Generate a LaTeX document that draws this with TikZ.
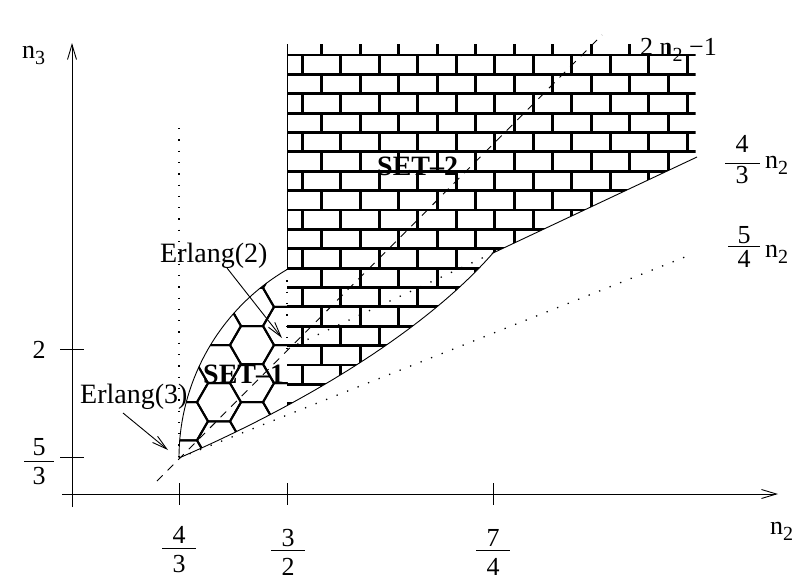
\documentclass[tikz,border=0pt]{standalone}
\usepackage{fontspec}
\setmainfont{Liberation Serif}
\usetikzlibrary{arrows.meta}
\newcommand\nsub[1]{n\raisebox{-6pt}{\fontsize{20}{20}\selectfont #1}}
\tikzset{
  thinline/.style={line width=0.9pt},
  brickline/.style={line width=2.8pt},
  hexline/.style={line width=2pt, line join=round},
  dotline/.style={line width=1.3pt, dash pattern=on 1.3pt off 10pt},
  dashline/.style={line width=0.9pt, dash pattern=on 8pt off 7pt},
  axis/.style={line width=0.9pt, -{Straight Barb[length=15pt,width=9pt]}},
  pointer/.style={line width=0.9pt, -{Straight Barb[length=15pt,width=8pt]}},
  lbl/.style={font=\fontsize{28}{30}\selectfont, inner sep=0pt, anchor=base west},
  setlbl/.style={font=\fontsize{28}{30}\selectfont\bfseries, inner sep=0pt, anchor=base west},
  num/.style={font=\fontsize{26}{28}\selectfont, inner sep=0pt, anchor=base},
  numw/.style={font=\fontsize{26}{28}\selectfont, inner sep=0pt, anchor=base west},
  fracbar/.style={line width=1pt},
}
\begin{document}
\begin{tikzpicture}[x=1pt,y=-1pt]
\useasboundingbox (0,0) rectangle (796,581);
\coordinate (apex) at (179,458);
\coordinate (kink) at (493,253);
\coordinate (top43) at (697,157);
\coordinate (arcend) at (287,269);
\coordinate (brtop) at (287,44);
\coordinate (p32) at (287,349);
\coordinate (vtop) at (179,128);
\coordinate (end54) at (690,255);
\coordinate (dashA) at (157,481);
\coordinate (dashB) at (602,35);

% honeycomb (SET-1)
\begin{scope}
\clip (179,458) .. controls (299,406) and (423,333) .. (493,253) -- (697,157) -- (697,20) -- (100,20) -- (100,458) -- cycle;
\clip (179,458) arc[start angle=180,end angle=240,radius=218.4] -- (287,480) -- (179,480) -- cycle;
\foreach \j in {0,...,4} {
  \pgfmathsetmacro\cx{285-33*\j}
  \pgfmathsetmacro\off{mod(\j,2)*19.05}
  \foreach \k in {-3,...,4} {
    \pgfmathsetmacro\cy{326+38.1*\k+\off}
    \draw[hexline] (\cx-22,\cy) -- (\cx-11,\cy-19.05) -- (\cx+11,\cy-19.05) -- (\cx+22,\cy) -- (\cx+11,\cy+19.05) -- (\cx-11,\cy+19.05) -- cycle;
  }
}
\end{scope}

% bricks (SET-2)
\begin{scope}
\clip (179,458) .. controls (299,406) and (423,333) .. (493,253) -- (697,157) -- (697,20) -- (100,20) -- (100,458) -- cycle;
\clip (287,44) rectangle (695.5,480);
\foreach \r in {0,...,22} {
  \pgfmathsetmacro\ytop{55+19.375*(\r-1)}
  \pgfmathsetmacro\ybot{55+19.375*\r}
  \draw[brickline] (280,\ybot) -- (700,\ybot);
  \pgfmathsetmacro\xs{mod(\r,2)==0 ? 283.2 : 302.3}
  \foreach \m in {0,...,11} \draw[brickline] (\xs+38.5*\m,\ytop) -- (\xs+38.5*\m,\ybot);
}
\end{scope}

% boundaries
\draw[thinline] (apex) arc[start angle=180,end angle=240,radius=218.4];
\draw[thinline] (apex) .. controls (299,406) and (423,333) .. (kink) -- (top43);
\draw[thinline] (brtop) -- (arcend);

% dotted and dashed lines
\draw[dotline] (vtop) -- (apex);
\draw[dotline] (arcend) -- (p32);
\draw[dotline] (p32) -- (kink);
\draw[dotline] (apex) -- (end54);
\draw[dashline] (dashA) -- (dashB);

% axes
\coordinate (xa0) at (62,494);
\coordinate (xa1) at (778,494);
\coordinate (ya0) at (72,507);
\coordinate (ya1) at (72,43);
\draw[axis] (xa0) -- (xa1);
\draw[axis] (ya0) -- (ya1);
\draw[thinline] (60,349) -- (84,349);
\draw[thinline] (60,457) -- (84,457);
\draw[thinline] (179,483) -- (179,505);
\draw[thinline] (287,483) -- (287,505);
\draw[thinline] (493,483) -- (493,505);

% axis labels
\node[numw] (n3) at (22,58) {\nsub{3}};
\node[numw] (n2) at (770,534) {\nsub{2}};
\node[num] (y2) at (39,358) {2};
\node[num] (y53n) at (39,455) {5};
\draw[fracbar] (24,461) -- (54,461);
\node[num] (y53d) at (39,484) {3};
\node[num] (x43n) at (179,543) {4};
\draw[fracbar] (162,548) -- (196,548);
\node[num] (x43d) at (179,572) {3};
\node[num] (x32n) at (288,546) {3};
\draw[fracbar] (271,550) -- (305,550);
\node[num] (x32d) at (288,575) {2};
\node[num] (x74n) at (493,546) {7};
\draw[fracbar] (476,550) -- (510,550);
\node[num] (x74d) at (493,575) {4};

% line labels
\node[numw] (l21) at (640,55) {2 \nsub{2} −1};
\node[num] (l43n) at (742,152) {4};
\draw[fracbar] (725,163) -- (760,163);
\node[num] (l43d) at (742,183) {3};
\node[numw] (l43v) at (765,168) {\nsub{2}};
\node[num] (l54n) at (744,243) {5};
\draw[fracbar] (728,246) -- (760,246);
\node[num] (l54d) at (744,267) {4};
\node[numw] (l54v) at (765,257) {\nsub{2}};

% set labels
\node[setlbl] (s1) at (203,383) {SET–1};
\node[setlbl] (s2) at (377,175) {SET–2};

% Erlang labels with pointers
\node[lbl] (e2) at (160,262) {Erlang(2)};
\node[lbl] (e3) at (80,403) {Erlang(3)};
\coordinate (e2a) at (227,268);
\coordinate (e2b) at (282,338);
\coordinate (e3a) at (123,413);
\coordinate (e3b) at (168,450);
\draw[pointer] (e2a) -- (e2b);
\draw[pointer] (e3a) -- (e3b);
\end{tikzpicture}
\end{document}
